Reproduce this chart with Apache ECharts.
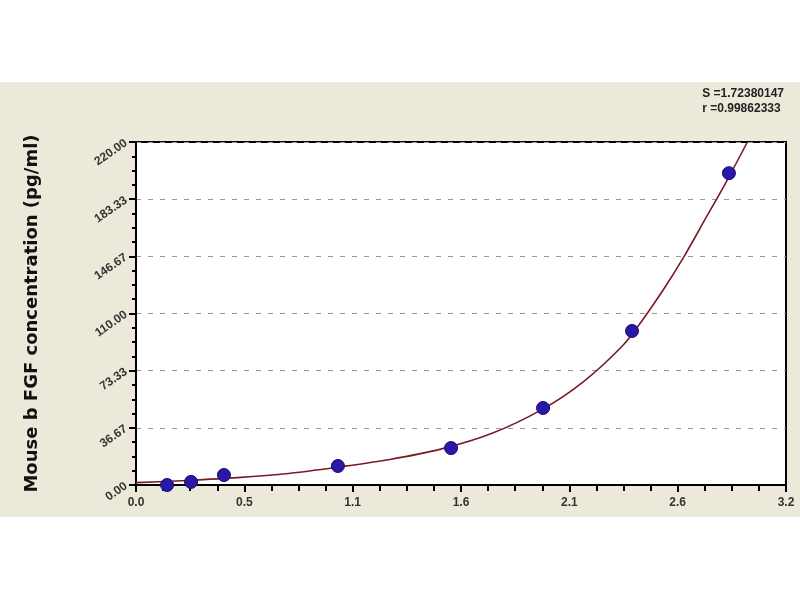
<!DOCTYPE html>
<html>
<head>
<meta charset="utf-8">
<script src="https://cdn.jsdelivr.net/npm/echarts@6/dist/echarts.min.js"></script>
<style>html,body{margin:0;padding:0;background:#fff;}#c{width:800px;height:600px;}</style>
</head>
<body>
<div id="c"></div>
<script>
// Standard points (OD, concentration)
const stdOD = [0.153, 0.271, 0.433, 0.994, 1.551, 2.004, 2.442, 2.919];
const stdConc = [0, 2, 6.4, 12.2, 23.7, 49.4, 98.8, 200];
// Fitted curve
const curveOD = [0, 0.25, 0.5, 0.75, 1.0, 1.25, 1.5, 1.75, 2.0, 2.2, 2.4, 2.5, 2.6, 2.7, 2.8, 2.9, 3.01];
const curveConc = [1.5, 2.9, 4.7, 7.4, 11.6, 16.4, 23, 33, 48.5, 66, 90, 107, 126, 147, 170, 193, 220];
const xTickLabels = ['0.0', '0.5', '1.1', '1.6', '2.1', '2.6', '3.2'];
const yTickLabels = ['0.00', '36.67', '73.33', '110.00', '146.67', '183.33', '220.00'];
const statLines = ['S =1.72380147', 'r =0.99862333'];
const yTitle = 'Mouse b FGF concentration (pg/ml)';

const xMax = 3.2, yMax = 220;
const xInt = xMax / 6, yInt = yMax / 6;

const chart = echarts.init(document.getElementById('c'));
chart.setOption({
  backgroundColor: '#ffffff',
  animation: false,
  graphic: [
    { type: 'rect', z: -10, shape: { x: 0, y: 82, width: 800, height: 435 }, style: { fill: '#ECE9DA' } },
    { type: 'text', right: 16, top: 86, style: { text: statLines.join('\n'), font: 'bold 12px "Liberation Sans", Arial', fill: '#222', align: 'right', lineHeight: 15 } }
  ],
  grid: { left: 136, right: 14, top: 142, bottom: 115, show: true, backgroundColor: '#ffffff', borderColor: '#000', borderWidth: 2 },
  xAxis: {
    type: 'value', min: 0, max: xMax, interval: xInt,
    axisLine: { show: true, lineStyle: { color: '#000', width: 2 } },
    axisTick: { show: true, inside: false, length: 7, lineStyle: { color: '#000', width: 2 } },
    minorTick: { show: true, splitNumber: 4, length: 6, lineStyle: { color: '#000', width: 2 } },
    splitLine: { show: false },
    axisLabel: {
      margin: 12, color: '#333', fontWeight: 'bold', fontSize: 12, fontFamily: '"Liberation Sans", Arial',
      formatter: v => xTickLabels[Math.round(v / xInt)]
    }
  },
  yAxis: {
    type: 'value', min: 0, max: yMax, interval: yInt,
    name: yTitle, nameLocation: 'middle', nameRotate: 90, nameGap: 95,
    nameTextStyle: { fontSize: 18, fontWeight: 'bold', color: '#111', fontFamily: '"DejaVu Sans"' },
    axisLine: { show: true, lineStyle: { color: '#000', width: 2 } },
    axisTick: { show: true, inside: false, length: 7, lineStyle: { color: '#000', width: 2 } },
    minorTick: { show: true, splitNumber: 4, length: 4, lineStyle: { color: '#000', width: 2 } },
    splitLine: { show: true, lineStyle: { color: '#9a9a9a', width: 1, type: [5, 7] } },
    axisLabel: {
      margin: 10, rotate: 35, color: '#333', fontWeight: 'bold', fontSize: 12, fontFamily: '"Liberation Sans", Arial',
      formatter: v => yTickLabels[Math.round(v / yInt)]
    }
  },
  series: [
    {
      type: 'line', smooth: 0.3, symbol: 'none', z: 2,
      lineStyle: { color: '#7a1a26', width: 1.6 },
      data: curveOD.map((x, i) => [x, curveConc[i]])
    },
    {
      type: 'scatter', symbol: 'circle', symbolSize: 13, z: 3,
      itemStyle: { color: '#2a18a8', borderColor: '#160a6e', borderWidth: 1, opacity: 1 },
      data: stdOD.map((x, i) => [x, stdConc[i]])
    }
  ]
});
</script>
</body>
</html>
